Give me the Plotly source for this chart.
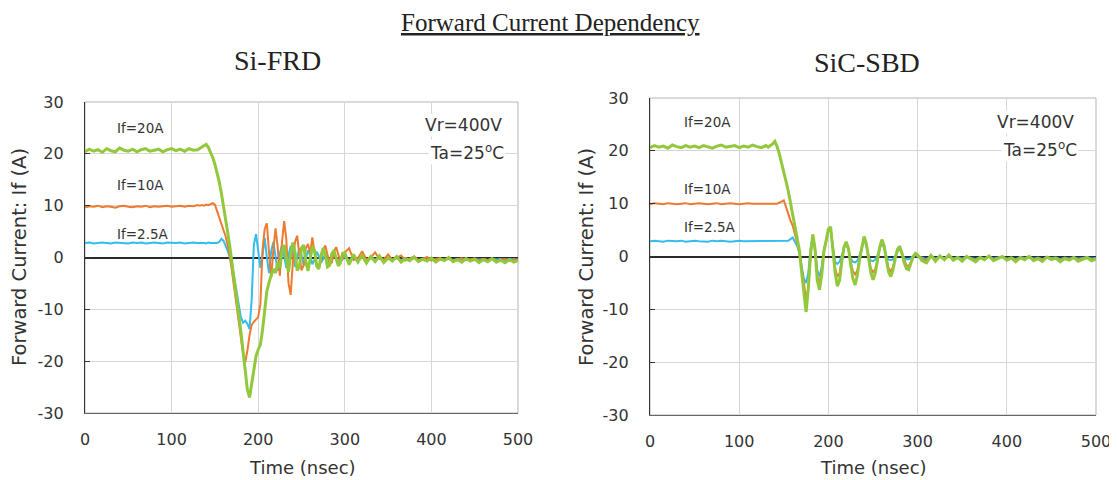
import plotly.graph_objects as go

# ---------------- data ----------------
TIME_NS = [
    0, 5, 10, 15, 20, 25, 30, 35, 40, 45,
    50, 55, 60, 65, 70, 75, 80, 85, 90, 95,
    100, 105, 110, 115, 120, 125, 130,
    132.5, 135, 137.5, 140,
    142.5, 145, 147.5, 150, 152.5, 155, 157.5, 160,
    162.5, 165, 167.5, 170, 172.5, 175, 177.5, 180,
    182.5, 185, 187.5, 190, 192.5, 195, 197.5, 200,
    202.5, 205, 207.5, 210, 212.5, 215, 217.5, 220,
    222.5, 225, 227.5, 230, 232.5, 235, 237.5, 240,
    242.5, 245, 247.5, 250, 252.5, 255, 257.5, 260,
    262.5, 265, 267.5, 270, 272.5, 275, 277.5, 280,
    282.5, 285, 287.5, 290, 292.5, 295, 297.5, 300,
    305, 310, 315, 320, 325, 330, 335, 340, 345, 350,
    355, 360, 365, 370, 375, 380, 385, 390, 395, 400,
    405, 410, 415, 420, 425, 430, 435, 440, 445, 450,
    455, 460, 465, 470, 475, 480, 485, 490, 495, 500,
]

# Si-FRD, If = 20 A
SI_FRD_20A = [
    20.4, 20.9, 20.5, 20.8, 20.3, 21.0, 20.6, 20.4, 21.1, 20.7,
    20.5, 20.9, 20.4, 20.8, 21.0, 20.5, 20.7, 20.9, 20.4, 20.8,
    21.0, 20.6, 20.9, 20.5, 21.0, 20.7, 20.8,
    21.0, 21.3, 21.6, 21.8,
    21.2, 20.3, 19.3, 18.0, 16.5, 14.6, 12.4, 10.0,
    7.4, 4.6, 1.8, -1.2, -4.2, -7.3, -10.6, -14.2,
    -18.0, -21.8, -25.5, -27.0, -24.5, -21.5, -19.0, -17.8,
    -16.8, -14.0, -9.5, -6.5, -4.8, -3.6, -2.2, -3.0,
    -1.0, -2.0, 1.2, 2.4, -0.5, -2.8, 0.6, 2.9,
    1.0, -2.5, -1.8, 1.8, 2.4, -0.8, -2.6, -0.6,
    2.1, 1.4, -1.5, -2.2, 0.3, 1.8, 0.6, -1.8,
    -1.5, 0.7, 1.4, -0.2, -1.6, -1.0, 0.8, 0.9,
    -1.4, 0.6, -0.9, 0.4, -1.1, 0.2, -0.8, 0.3, -1.0, -0.1,
    -0.7, 0.2, -0.9, -0.2, -0.6, 0.1, -0.8, -0.3, -0.7, -0.1,
    -0.9, -0.3, -0.6, 0.0, -0.8, -0.4, -0.9, -0.2, -0.7, -0.3,
    -1.0, -0.4, -0.8, -0.2, -0.9, -0.5, -1.0, -0.4, -0.9, -0.6,
]

# Si-FRD, If = 10 A
SI_FRD_10A = [
    9.7, 9.9, 9.8, 10.0, 9.7, 9.9, 9.8, 9.6, 9.9, 10.0,
    9.8, 9.7, 9.9, 9.8, 10.0, 9.7, 9.9, 9.8, 9.9, 10.0,
    9.8, 9.9, 10.0, 9.8, 10.0, 9.9, 10.1,
    10.0, 10.1, 10.0, 10.2,
    10.1, 10.3, 10.5, 10.2, 9.0, 7.5, 6.4, 5.4,
    4.0, 2.2, 0.0, -3.0, -6.0, -9.0, -12.2, -15.5,
    -18.6, -20.2, -18.0, -15.0, -13.0, -12.4, -12.0, -11.5,
    -9.0, 1.5, 5.5, 6.6, 1.0, -3.8, 1.5, 5.6,
    2.0, -3.5, 3.0, 7.0, 3.5, -5.0, -7.2, -1.0,
    3.0, 4.2, 0.5, -2.5, -1.5, 1.8, 2.6, 0.8,
    3.9, 1.0, -1.8, -2.2, -0.3, 1.5, 2.3, 0.6,
    -1.2, -1.0, 1.2, 2.0, 0.5, -0.8, -0.4, 1.0,
    1.8, -0.5, -0.2, 1.2, -0.4, 0.0, 1.0, -0.3, -0.4, 0.6,
    -0.5, -0.1, 0.4, -0.6, -0.2, 0.2, -0.5, -0.3, 0.1, -0.6,
    -0.3, -0.1, -0.5, -0.2, -0.6, -0.3, -0.1, -0.5, -0.4, -0.2,
    -0.6, -0.3, -0.5, -0.2, -0.6, -0.4, -0.3, -0.6, -0.4, -0.5,
]

# Si-FRD, If = 2.5 A
SI_FRD_2P5A = [
    2.8, 2.9, 2.7, 2.8, 2.9, 2.8, 2.7, 2.9, 2.8, 2.8,
    2.7, 2.9, 2.8, 2.9, 2.7, 2.8, 2.9, 2.8, 2.7, 2.9,
    2.8, 2.8, 2.9, 2.7, 2.8, 2.9, 2.8,
    2.8, 2.9, 2.8, 2.7,
    2.9, 2.8, 2.8, 2.9, 2.8, 3.0, 3.6, 3.2,
    2.2, 1.2, -0.2, -1.8, -4.0, -6.4, -9.0, -11.5,
    -12.6, -12.2, -12.8, -13.8, -8.0, 2.5, 4.5, 1.5,
    -2.0, 0.5, 3.8, 0.0, -3.0, 1.2, 3.0, 0.2,
    -2.6, 0.8, 2.4, 0.3, -2.0, 0.5, 2.2, 0.6,
    -1.8, 0.0, 1.8, 0.5, -1.5, -0.3, 1.4, 0.4,
    -1.3, -0.4, 1.1, 0.3, -1.0, -0.3, 0.9, 0.2,
    -0.9, -0.4, 0.6, 0.1, -0.8, -0.3, 0.5, 0.0,
    -0.6, 0.2, -0.5, 0.1, -0.6, -0.1, -0.4, 0.0, -0.5, -0.2,
    -0.4, -0.1, -0.5, -0.2, -0.3, -0.1, -0.5, -0.3, -0.4, -0.2,
    -0.5, -0.3, -0.4, -0.2, -0.5, -0.3, -0.4, -0.2, -0.5, -0.3,
    -0.4, -0.3, -0.5, -0.2, -0.4, -0.3, -0.5, -0.3, -0.4, -0.4,
]

# SiC-SBD, If = 20 A
SIC_SBD_20A = [
    20.6, 21.0, 20.7, 20.9, 20.5, 21.1, 20.8, 20.6, 21.0, 20.7,
    20.9, 20.6, 21.0, 20.8, 20.5, 20.9, 21.1, 20.7, 20.8, 21.0,
    20.6, 20.9, 20.7, 21.1, 20.8, 20.6, 21.0,
    20.7, 21.0, 21.3, 21.8,
    20.8, 19.4, 17.8, 16.0, 14.2, 12.4, 10.2, 8.0,
    5.6, 3.4, 1.2, -3.0, -6.8, -10.5, -6.0, 0.5,
    4.2, 1.5, -4.5, -6.3, -3.5, 1.0, 3.0, 5.2,
    5.6, 1.5, -3.0, -5.6, -4.5, -1.0, 1.8, 2.8,
    1.5, -1.5, -4.2, -5.4, -3.5, -0.5, 2.0, 3.8,
    2.5, -0.5, -3.0, -4.4, -3.2, -0.8, 1.8, 3.2,
    2.0, -0.6, -3.0, -3.8, -2.5, -0.3, 1.4, 1.9,
    0.6, -1.2, -2.3, -2.5, -1.3, 0.0, 0.6, 0.3,
    -0.8, -1.2, 0.2, -0.9, 0.1, -0.6, 0.3, -0.7, -0.2, -0.9,
    0.0, -0.5, -1.0, -0.2, -0.6, 0.1, -0.8, -0.4, 0.0, -0.7,
    -0.3, -1.0, -0.2, -0.6, 0.0, -0.8, -0.4, -0.9, -0.1, -0.6,
    -0.3, -1.0, -0.4, -0.7, -0.2, -0.9, -0.5, -0.2, -0.8, -0.5,
]

# SiC-SBD, If = 10 A
SIC_SBD_10A = [
    9.9, 10.1, 10.0, 9.9, 10.1, 10.0, 9.9, 10.0, 10.1, 9.9,
    10.0, 10.1, 10.0, 9.9, 10.0, 10.1, 9.9, 10.0, 10.1, 10.0,
    9.9, 10.0, 10.1, 10.0, 10.0, 10.1, 10.0,
    10.0, 10.1, 10.0, 10.1,
    10.0, 10.2, 10.4, 10.6, 9.4, 8.0, 6.8, 5.8,
    4.4, 2.6, 0.6, -2.0, -5.0, -8.2, -6.0, 0.2,
    4.0, 1.5, -3.8, -5.0, -2.8, 1.2, 3.0, 5.0,
    5.4, 1.6, -2.2, -3.8, -3.2, -0.6, 1.8, 2.6,
    1.4, -1.0, -2.8, -3.4, -2.6, -0.4, 1.8, 3.6,
    2.4, -0.2, -2.2, -3.0, -2.4, -0.6, 1.6, 3.0,
    1.9, -0.3, -2.2, -2.8, -2.0, -0.2, 1.3, 1.8,
    0.6, -0.9, -1.7, -1.8, -1.0, 0.0, 0.5, 0.2,
    -0.4, -0.8, 0.1, -0.6, 0.0, -0.4, 0.2, -0.5, -0.2, -0.6,
    -0.1, -0.4, -0.7, -0.2, -0.5, 0.0, -0.6, -0.3, -0.1, -0.5,
    -0.3, -0.7, -0.2, -0.4, -0.1, -0.6, -0.3, -0.6, -0.2, -0.4,
    -0.3, -0.7, -0.3, -0.5, -0.2, -0.6, -0.4, -0.2, -0.6, -0.4,
]

# SiC-SBD, If = 2.5 A
SIC_SBD_2P5A = [
    2.9, 3.0, 2.9, 2.8, 3.0, 2.9, 2.9, 3.0, 2.8, 2.9,
    3.0, 2.9, 2.9, 2.8, 3.0, 2.9, 3.0, 2.9, 2.8, 2.9,
    3.0, 2.9, 2.9, 3.0, 2.9, 2.9, 3.0,
    2.9, 3.0, 2.9, 2.9,
    3.0, 2.9, 3.0, 3.0, 2.9, 3.0, 3.3, 3.6,
    2.8, 2.0, 0.6, -1.8, -4.2, -5.0, -3.0, 1.5,
    3.8, 1.2, -2.6, -3.8, -2.0, 1.0, 3.0, 4.8,
    5.0, 1.5, -1.0, -1.4, -1.0, 0.2, 1.6, 2.4,
    1.3, -0.4, -1.0, -1.1, -0.8, 0.2, 1.6, 3.2,
    2.0, 0.0, -0.8, -0.9, -0.6, 0.2, 1.4, 2.6,
    1.6, 0.0, -0.6, -0.7, -0.5, 0.1, 1.0, 1.4,
    0.5, -0.3, -0.5, -0.5, -0.3, 0.1, 0.3, 0.0,
    -0.2, -0.5, 0.1, -0.4, 0.0, -0.3, 0.1, -0.4, -0.1, -0.4,
    0.0, -0.3, -0.5, -0.1, -0.4, 0.0, -0.4, -0.2, 0.0, -0.4,
    -0.2, -0.5, -0.1, -0.3, 0.0, -0.4, -0.2, -0.5, -0.1, -0.3,
    -0.2, -0.5, -0.2, -0.4, -0.1, -0.4, -0.3, -0.1, -0.4, -0.3,
]

SERIES_LABELS = ["If=2.5A", "If=10A", "If=20A"]
X_TICKS = [0, 100, 200, 300, 400, 500]
Y_TICKS = [-30, -20, -10, 0, 10, 20, 30]
Y_TICK_TEXT = ["-30", "-20", "-10", "0", "10", "20", "30"]
PANEL_TITLES = ["Si-FRD", "SiC-SBD"]
MAIN_TITLE = "Forward Current Dependency"
X_TITLE = "Time (nsec)"
Y_TITLE = "Forward Current: If (A)"
COND_1 = "Vr=400V"
COND_2 = "Ta=25<sup>o</sup>C"

for s in (SI_FRD_20A, SI_FRD_10A, SI_FRD_2P5A, SIC_SBD_20A, SIC_SBD_10A, SIC_SBD_2P5A):
    assert len(s) == len(TIME_NS), len(s)

# ---------------- styling ----------------
# The page body has an 8 px margin, so the figure is made 8 px smaller and
# every screen position below is shifted by that offset.
SCREEN_W, SCREEN_H, OFF = 1117, 480, 8
W, H = SCREEN_W - OFF, SCREEN_H - OFF
C_BLUE, C_ORANGE, C_GREEN = "#33BDEE", "#EE7A30", "#93C83C"
GRID = "#d6d6d6"
FRAME = "#b5b5b5"
TXT = "#333333"
SANS = "DejaVu Sans"
SERIF = "Liberation Serif"


def fx(px):
    return (px - OFF) / W


def fy(py):
    return 1 - (py - OFF) / H


fig = go.Figure()

panels = [
    ("x", "y", [SI_FRD_2P5A, SI_FRD_10A, SI_FRD_20A]),
    ("x2", "y2", [SIC_SBD_2P5A, SIC_SBD_10A, SIC_SBD_20A]),
]
colors = [C_BLUE, C_ORANGE, C_GREEN]
widths = [2, 2, 3]
for xa, ya, series in panels:
    for vals, col, w, name in zip(series, colors, widths, SERIES_LABELS):
        fig.add_trace(go.Scatter(x=TIME_NS, y=vals, mode="lines", name=name,
                                 line=dict(color=col, width=w),
                                 xaxis=xa, yaxis=ya, showlegend=False))


def xaxis(dom, anchor):
    return dict(domain=dom, anchor=anchor, range=[0, 500], tickvals=X_TICKS,
                showgrid=True, gridcolor=GRID, gridwidth=1, zeroline=False,
                showline=True, linecolor="#666", linewidth=1, ticks="",
                tickfont=dict(family=SANS, size=16, color=TXT),
                ticklabelstandoff=12, automargin=False, fixedrange=True)


def yaxis(dom, anchor):
    return dict(domain=dom, anchor=anchor, range=[-30, 30], tickvals=Y_TICKS,
                ticktext=Y_TICK_TEXT,
                showgrid=True, gridcolor=GRID, gridwidth=1,
                zeroline=True, zerolinecolor="#2a2a2a", zerolinewidth=1.5,
                showline=True, linecolor="#333", linewidth=1.2,
                ticks="inside", ticklen=5, tickcolor="#333",
                tickfont=dict(family=SANS, size=16, color=TXT),
                ticklabelstandoff=17, automargin=False, fixedrange=True)


L_X = [fx(85), fx(518)]
L_Y = [fy(413), fy(102)]
R_X = [fx(650), fx(1096)]
R_Y = [fy(415), fy(98)]


def paper_text(text, px, py, font, angle=0):
    return dict(text=text, x=fx(px), y=fy(py), xref="paper", yref="paper",
                xanchor="center", yanchor="middle", textangle=angle,
                showarrow=False, font=font)


annotations = [
    paper_text("<u>" + MAIN_TITLE + "</u>", 550, 22, dict(family=SERIF, size=25, color="#222")),
    paper_text(PANEL_TITLES[0], 277, 60, dict(family=SERIF, size=28, color="#222")),
    paper_text(PANEL_TITLES[1], 867, 62, dict(family=SERIF, size=28, color="#222")),
    paper_text(Y_TITLE, 19, 257, dict(family=SANS, size=19.5, color=TXT), -90),
    paper_text(Y_TITLE, 586, 257, dict(family=SANS, size=19.5, color=TXT), -90),
    paper_text(X_TITLE, 302, 467, dict(family=SANS, size=18, color=TXT)),
    paper_text(X_TITLE, 873, 467, dict(family=SANS, size=18, color=TXT)),
]

label_pos = {
    "x": [(35, 4.6), (35, 13.9), (35, 24.9)],
    "x2": [(36, 5.5), (36, 12.7), (36, 25.4)],
}
cond_pos = {"x": (484, 25.5, 486, 20.3), "x2": (478, 25.4, 481, 20.3)}
for xa, ya, _ in panels:
    for (t, v), name in zip(label_pos[xa], SERIES_LABELS):
        annotations.append(dict(text=name, x=t, y=v, xref=xa, yref=ya,
                                xanchor="left", yanchor="middle",
                                showarrow=False, font=dict(family=SANS, size=13.5, color=TXT)))
    t1, v1, t2, v2 = cond_pos[xa]
    annotations.append(dict(text=COND_1, x=t1, y=v1, xref=xa, yref=ya,
                            xanchor="right", yanchor="middle",
                            showarrow=False, bgcolor="white",
                            font=dict(family=SANS, size=17, color=TXT)))
    annotations.append(dict(text=COND_2, x=t2, y=v2, xref=xa, yref=ya,
                            xanchor="right", yanchor="middle",
                            showarrow=False, bgcolor="white",
                            font=dict(family=SANS, size=17, color=TXT)))

shapes = [
    dict(type="rect", xref="x domain", yref="y domain", x0=0, x1=1, y0=0, y1=1,
         line=dict(color=FRAME, width=1), layer="below"),
    dict(type="rect", xref="x2 domain", yref="y2 domain", x0=0, x1=1, y0=0, y1=1,
         line=dict(color=FRAME, width=1), layer="below"),
]

fig.update_layout(
    template="none",
    width=W, height=H, margin=dict(l=0, r=0, t=0, b=0, autoexpand=False),
    paper_bgcolor="white", plot_bgcolor="white", showlegend=False,
    xaxis=xaxis(L_X, "y"), yaxis=yaxis(L_Y, "x"),
    xaxis2=xaxis(R_X, "y2"), yaxis2=yaxis(R_Y, "x2"),
    annotations=annotations, shapes=shapes,
)

fig.write_html("out.html")
